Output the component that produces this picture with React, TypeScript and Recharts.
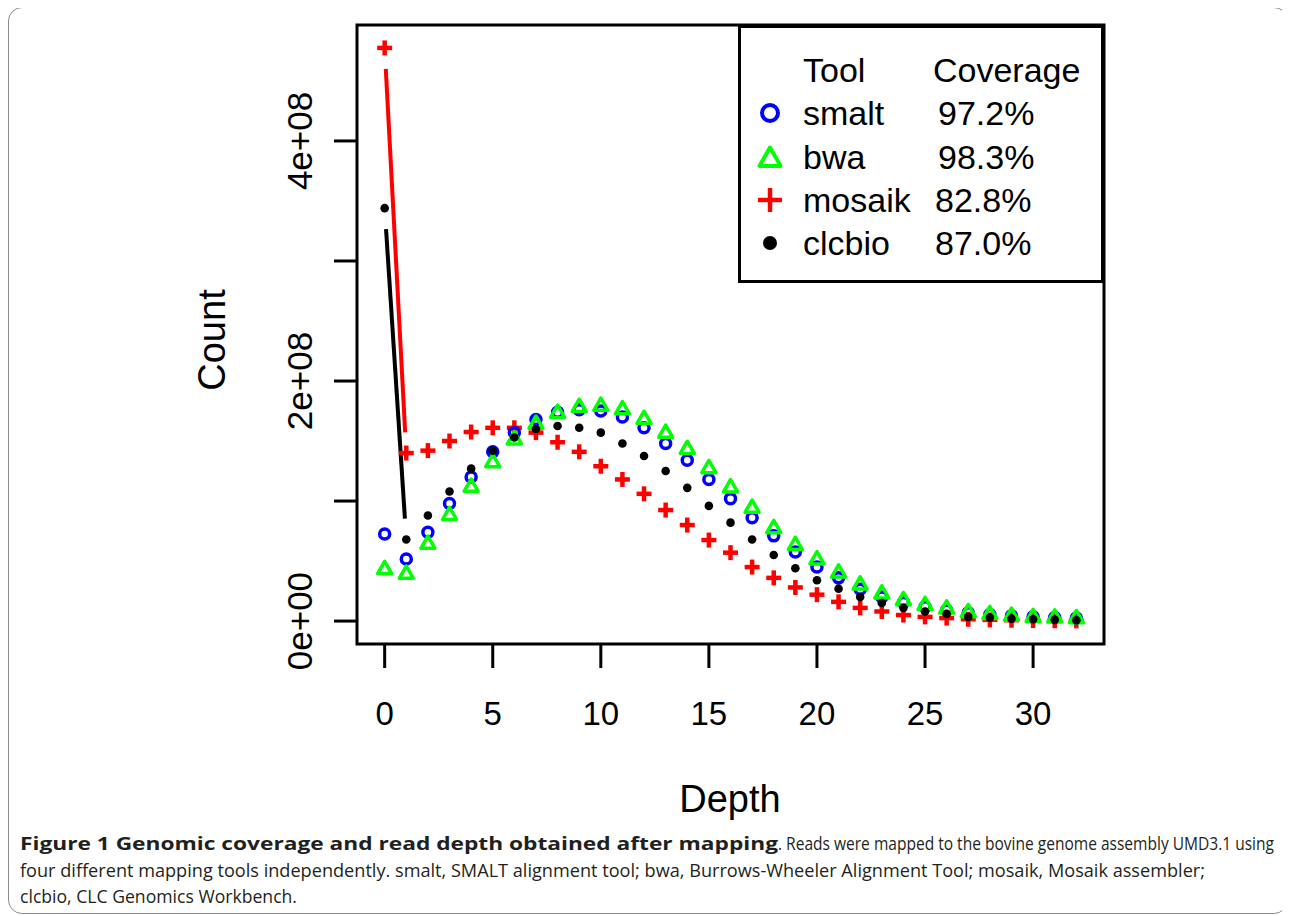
import { ComposedChart, Line, XAxis, YAxis, ReferenceArea } from "recharts";

// read depth 0..32, counts in millions
const depths = [
  0, 1, 2, 3, 4, 5, 6, 7, 8, 9, 10, 11, 12, 13, 14, 15, 16, 17, 18, 19, 20,
  21, 22, 23, 24, 25, 26, 27, 28, 29, 30, 31, 32,
];
const smalt = [
  72.5, 51.7, 74, 98, 120, 141, 157, 168, 174, 176, 175, 170, 161, 148, 134,
  118, 102, 86, 71, 57.5, 45, 36, 26.5, 20, 15.5, 12, 9, 7, 5.5, 4.5, 3.5, 3,
  2.5,
];
const bwa = [
  44, 40, 65, 89, 112.5, 133, 152, 165, 174, 179, 180, 177, 169, 157.5, 144,
  128, 112, 95, 78, 64, 52, 41, 31, 23.5, 18, 14, 11, 8, 6.5, 5, 4, 3.5, 3,
];
const mosaik = [
  477.5, 140, 142, 150, 157.5, 161, 161, 157, 149, 141, 129, 118, 106, 92.5,
  80, 67.5, 57, 45, 36, 28, 22, 16, 11, 8, 5, 3.5, 2.5, 1.5, 1, 0.7, 0.5, 0.3,
  0.2,
];
const clcbio = [
  344, 68, 88, 108, 127, 142, 153, 160, 162.5, 161, 157, 148, 137.5, 125, 111,
  96, 82, 68, 55, 44, 34, 27, 20, 15, 11, 8, 6, 3.5, 3, 2, 1.5, 1, 0.7,
];

const tools = ["smalt", "bwa", "mosaik", "clcbio"];
const coverage = ["97.2%", "98.3%", "82.8%", "87.0%"];
const xTicks = [0, 5, 10, 15, 20, 25, 30];
const yTicks = [0, 1e8, 2e8, 3e8, 4e8];
const yLabelled = [0, 2e8, 4e8];

const M = 1e6;
const chartData = depths.map((d, i) => ({
  depth: d,
  smalt: smalt[i] * M,
  bwa: bwa[i] * M,
  mosaik: mosaik[i] * M,
  clcbio: clcbio[i] * M,
  mosaikLink: i < 2 ? mosaik[i] * M : null,
  clcbioLink: i < 2 ? clcbio[i] * M : null,
}));

// R-style 4% padding of the axis ranges
const allY = [...smalt, ...bwa, ...mosaik, ...clcbio].map((v) => v * M);
const yMin = Math.min(...allY);
const yMax = Math.max(...allY);
const yPad = (yMax - Math.min(0, yMin)) * 0.04;
const xMin = Math.min(...depths);
const xMax = Math.max(...depths);
const xPad = (xMax - xMin) * 0.04;
const xDomain = [xMin - xPad, xMax + xPad];
const yDomain = [Math.min(0, yMin) - yPad, yMax + yPad];

const FONT = "'Liberation Sans', Arial, Helvetica, sans-serif";

function sci(v: number): string {
  if (v === 0) return "0e+00";
  const e = Math.floor(Math.log10(Math.abs(v)));
  const m = Math.round(v / Math.pow(10, e));
  return `${m}e+${String(e).padStart(2, "0")}`;
}

function Circle({ cx, cy, r = 5, w = 3.5 }: any) {
  if (cx == null || cy == null) return null;
  return <circle cx={cx} cy={cy} r={r} fill="none" stroke="#0000ff" strokeWidth={w} />;
}
function Triangle({ cx, cy, s = 7, w = 3.5 }: any) {
  if (cx == null || cy == null) return null;
  const pts = `${cx},${cy - s} ${cx - s},${cy + s * 0.75} ${cx + s},${cy + s * 0.75}`;
  return <polygon points={pts} fill="none" stroke="#00ff00" strokeWidth={w} strokeLinejoin="round" />;
}
function Plus({ cx, cy, s = 7.5, w = 4.5 }: any) {
  if (cx == null || cy == null) return null;
  return (
    <g stroke="#ff0000" strokeWidth={w}>
      <line x1={cx - s} y1={cy} x2={cx + s} y2={cy} />
      <line x1={cx} y1={cy - s} x2={cx} y2={cy + s} />
    </g>
  );
}
function Dot({ cx, cy, r = 4.3 }: any) {
  if (cx == null || cy == null) return null;
  return <circle cx={cx} cy={cy} r={r} fill="#000" />;
}

function YTick(props: any) {
  const { x, y, payload } = props;
  const label = yLabelled.includes(payload.value) ? sci(payload.value) : "";
  const cx = x - 20;
  return (
    <text
      x={cx}
      y={y}
      transform={`rotate(-90 ${cx} ${y})`}
      textAnchor="middle"
      fontSize={35}
      fontFamily={FONT}
      fill="#000"
    >
      {label}
    </text>
  );
}

function XTick(props: any) {
  const { x, y, payload } = props;
  return (
    <text x={x} y={y + 55} textAnchor="middle" fontSize={33} fontFamily={FONT} fill="#000">
      {payload.value}
    </text>
  );
}

function LegendBox() {
  const symbols = [
    (cy: number) => <Circle cx={32} cy={cy} r={8} w={4} />,
    (cy: number) => <Triangle cx={32} cy={cy + 1} s={10.5} w={4} />,
    (cy: number) => <Plus cx={32} cy={cy} s={12} w={4.5} />,
    (cy: number) => <Dot cx={32} cy={cy} r={7} />,
  ];
  const rows = [88, 132, 175, 218];
  return (
    <svg width={366} height={258} style={{ display: "block" }}>
      <rect x={1.5} y={1.5} width={363} height={255} fill="#fff" stroke="#000" strokeWidth={3} />
      <g fontFamily={FONT} fontSize={34} fill="#000">
        <text x={65} y={57}>Tool</text>
        <text x={195} y={57}>Coverage</text>
        {tools.map((t, i) => (
          <g key={t}>
            {symbols[i](rows[i])}
            <text x={65} y={rows[i] + 12}>{t}</text>
            <text x={i < 2 ? 200 : 197} y={rows[i] + 12}>{coverage[i]}</text>
          </g>
        ))}
      </g>
    </svg>
  );
}

export default function App() {
  return (
    <div
      style={{
        position: "relative",
        width: 1278,
        height: 905,
        marginTop: -1,
        border: "1px solid #8a8a8a",
        borderRadius: 14,
        background: "#fff",
      }}
    >
      <div style={{ position: "absolute", left: 0, top: 0 }}>
        <ComposedChart
          width={1270}
          height={800}
          data={chartData}
          margin={{ top: 17, right: 175, left: 248, bottom: 64 }}
        >
          <XAxis
            dataKey="depth"
            type="number"
            domain={xDomain}
            ticks={xTicks}
            interval={0}
            height={100}
            axisLine={false}
            tickSize={24}
            tickLine={{ stroke: "#000", strokeWidth: 3 }}
            tick={(p: any) => <XTick {...p} />}
          />
          <YAxis
            type="number"
            domain={yDomain}
            ticks={yTicks}
            interval={0}
            width={100}
            axisLine={false}
            tickSize={23}
            tickLine={{ stroke: "#000", strokeWidth: 3 }}
            tick={(p: any) => <YTick {...p} />}
          />
          <ReferenceArea
            x1={xDomain[0]}
            x2={xDomain[1]}
            y1={yDomain[0]}
            y2={yDomain[1]}
            fill="none"
            stroke="#000"
            strokeWidth={3}
            ifOverflow="visible"
          />
          <Line
            dataKey="mosaikLink"
            stroke="#ff0000"
            strokeWidth={4}
            strokeDasharray="364 42"
            strokeDashoffset={385}
            dot={false}
            activeDot={false}
            isAnimationActive={false}
          />
          <Line
            dataKey="clcbioLink"
            stroke="#000"
            strokeWidth={4}
            strokeDasharray="290 42"
            strokeDashoffset={311}
            dot={false}
            activeDot={false}
            isAnimationActive={false}
          />
          <Line
            dataKey="mosaik"
            stroke="none"
            dot={(p: any) => <Plus key={p.index} cx={p.cx} cy={p.cy} />}
            activeDot={false}
            isAnimationActive={false}
          />
          <Line
            dataKey="smalt"
            stroke="none"
            dot={(p: any) => <Circle key={p.index} cx={p.cx} cy={p.cy} />}
            activeDot={false}
            isAnimationActive={false}
          />
          <Line
            dataKey="bwa"
            stroke="none"
            dot={(p: any) => <Triangle key={p.index} cx={p.cx} cy={p.cy} />}
            activeDot={false}
            isAnimationActive={false}
          />
          <Line
            dataKey="clcbio"
            stroke="none"
            dot={(p: any) => <Dot key={p.index} cx={p.cx} cy={p.cy} />}
            activeDot={false}
            isAnimationActive={false}
          />
        </ComposedChart>
      </div>
      <div style={{ position: "absolute", left: 729, top: 17 }}>
        <LegendBox />
      </div>
      <svg
        width={1278}
        height={905}
        style={{ position: "absolute", left: 0, top: 0, pointerEvents: "none" }}
      >
        <text
          x={216}
          y={332}
          transform="rotate(-90 216 332)"
          textAnchor="middle"
          fontSize={38}
          fontFamily={FONT}
        >
          Count
        </text>
        <text x={721} y={804} textAnchor="middle" fontSize={38} fontFamily={FONT}>
          Depth
        </text>
        <g fontFamily="'Open Sans', sans-serif" fontSize={18.5} fill="#231f20">
          <text x={11} y={842} fontWeight="bold" textLength={758} lengthAdjust="spacingAndGlyphs">
            Figure 1 Genomic coverage and read depth obtained after mapping
          </text>
          <text x={769} y={842} textLength={496} lengthAdjust="spacingAndGlyphs">
            . Reads were mapped to the bovine genome assembly UMD3.1 using
          </text>
          <text x={11} y={869} textLength={1185} lengthAdjust="spacingAndGlyphs">
            four different mapping tools independently. smalt, SMALT alignment tool; bwa, Burrows-Wheeler Alignment Tool; mosaik, Mosaik assembler;
          </text>
          <text x={11} y={895} textLength={277} lengthAdjust="spacingAndGlyphs">
            clcbio, CLC Genomics Workbench.
          </text>
        </g>
      </svg>
    </div>
  );
}
